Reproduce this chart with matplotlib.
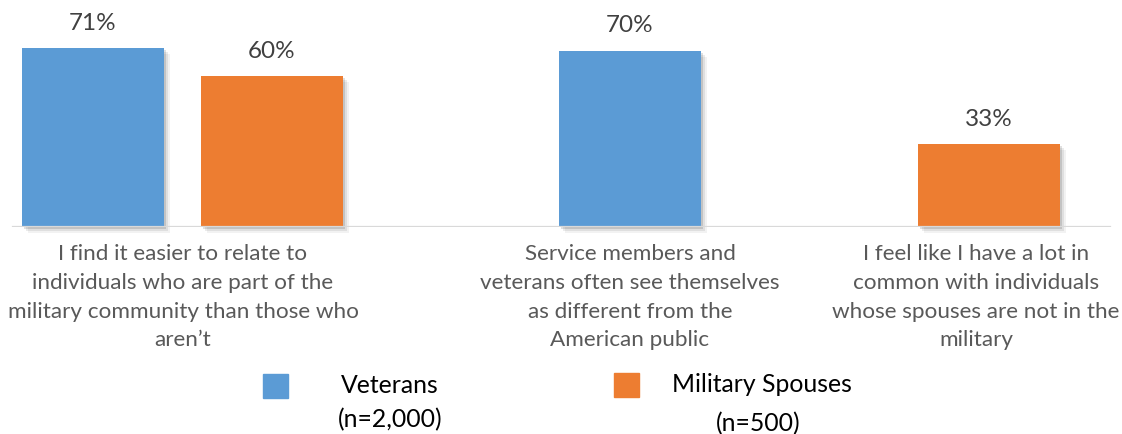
import matplotlib.pyplot as plt
from matplotlib.patches import Rectangle

plt.rcParams['font.family'] = ['Lato', 'DejaVu Sans']

# data
categories = ["I find it easier to relate to\nindividuals who are part of the\nmilitary community than those who\naren\u2019t",
              "Service members and\nveterans often see themselves\nas different from the\nAmerican public",
              "I feel like I have a lot in\ncommon with individuals\nwhose spouses are not in the\nmilitary"]
veterans = [71, 70, None]
spouses = [60, None, 33]
series_names = ["Veterans", "Military Spouses"]
series_n = ["(n=2,000)", "(n=500)"]

# layout (figure pixel units on x)
W, H = 1122, 435
cat_x = [183, 630, 976]
slot_x = [[93, 272], [630, None], [None, 989]]
bar_w = 142
colors = ['#5B9BD5', '#ED7D31']

fig = plt.figure(figsize=(W / 100, H / 100), dpi=100)
ax = fig.add_axes([0, 1 - 228 / H, 1, 201.6 / H])
ax.set_xlim(0, W)
ax.set_ylim(0, 80)
ax.axis('off')

for i in range(len(categories)):
    for s, vals in enumerate([veterans, spouses]):
        v = vals[i]
        if v is None:
            continue
        x = slot_x[i][s]
        # soft shadow
        for k, a in [(6, 0.05), (4, 0.08), (2, 0.12)]:
            ax.add_patch(Rectangle((x - bar_w / 2 + k, -k * 0.4), bar_w, v, color='#000000',
                                   alpha=a, lw=0, zorder=1, clip_on=False))
        ax.bar(x, v, width=bar_w, color=colors[s], zorder=2)
        ax.text(x, v + 6, f"{v}%", ha='center', va='bottom', fontsize=17.5, color='#404040')

ax.axhline(0, color='#D9D9D9', lw=1.6, xmin=13 / W, xmax=1110 / W, zorder=3)

for i, lab in enumerate(categories):
    fig.text(cat_x[i] / W, 1 - 244 / H, lab, ha='center', va='top', fontsize=16.2,
             color='#595959', linespacing=1.55)

# legend
sq = [(263, 375), (614, 374)]
for s in range(2):
    fig.patches.append(Rectangle((sq[s][0] / W, 1 - (sq[s][1] + 24) / H), 25 / W, 24 / H,
                                 color=colors[s], transform=fig.transFigure))
fig.text(390 / W, 1 - 386 / H, series_names[0], ha='center', va='center', fontsize=17.8, color='#000000')
fig.text(390 / W, 1 - 420 / H, series_n[0], ha='center', va='center', fontsize=17.8, color='#000000')
fig.text(672 / W, 1 - 385 / H, series_names[1], ha='left', va='center', fontsize=17.8, color='#000000')
fig.text(758 / W, 1 - 424 / H, series_n[1], ha='center', va='center', fontsize=17.8, color='#000000')

fig.savefig('out.png', dpi=100)
